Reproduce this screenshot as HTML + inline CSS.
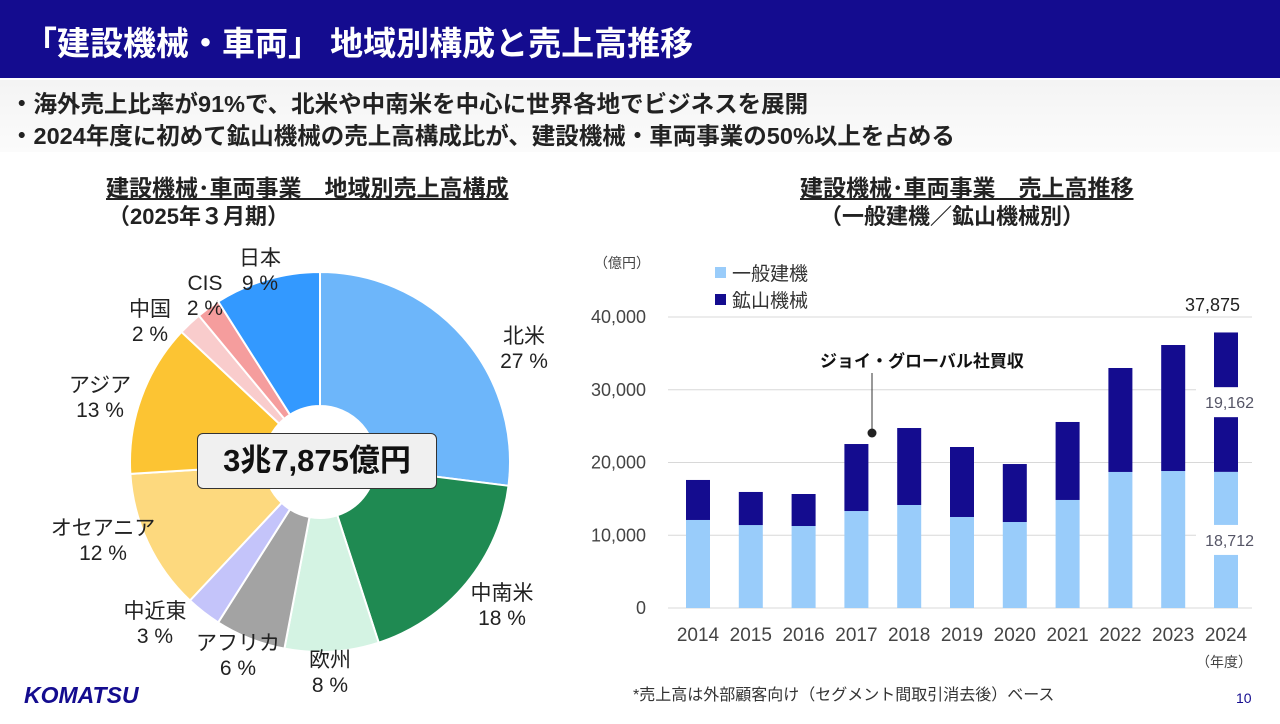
<!DOCTYPE html>
<html><head><meta charset="utf-8">
<style>
body{margin:0;width:1280px;height:724px;overflow:hidden;background:#fff;font-family:"Liberation Sans","Noto Sans CJK JP",sans-serif;position:relative}
.abs{position:absolute}
</style></head><body>
<div class="abs" style="left:0;top:0;width:1280px;height:78px;background:#140c8f"></div>
<div class="abs" style="left:24px;top:17px;color:#fff;font-size:33px;font-weight:bold;white-space:nowrap">「建設機械・車両」 地域別構成と売上高推移</div>
<div class="abs" style="left:0;top:80px;width:1280px;height:72px;background:linear-gradient(#f4f4f4,#fbfbfb)"></div>
<div class="abs" style="left:10px;top:85px;font-size:23.5px;font-weight:bold;color:#222;white-space:nowrap">・海外売上比率が91%で、北米や中南米を中心に世界各地でビジネスを展開</div>
<div class="abs" style="left:10px;top:117px;font-size:23.5px;font-weight:bold;color:#222;white-space:nowrap">・2024年度に初めて鉱山機械の売上高構成比が、建設機械・車両事業の50%以上を占める</div>
<div class="abs" style="left:106px;top:169px;font-size:23px;font-weight:bold;color:#222;text-decoration:underline;white-space:nowrap">建設機械･車両事業　地域別売上高構成</div>
<div class="abs" style="left:108px;top:199px;font-size:22px;font-weight:bold;color:#222">（2025年３月期）</div>
<div class="abs" style="left:800px;top:169px;font-size:23px;font-weight:bold;color:#222;text-decoration:underline;white-space:nowrap">建設機械･車両事業　売上高推移</div>
<div class="abs" style="left:820px;top:199px;font-size:22px;font-weight:bold;color:#222">（一般建機／鉱山機械別）</div>

<svg class="abs" style="left:0;top:0" width="1280" height="724" id="svg"></svg>

<div class="abs" style="left:197px;top:433px;width:240px;height:56px;box-sizing:border-box;border:1.5px solid #333;border-radius:6px;background:#f0f0f0;font-size:31px;font-weight:bold;text-align:center;line-height:53px;color:#111">3兆7,875億円</div>

<div class="abs" style="left:633px;top:681px;font-size:16px;color:#333">*売上高は外部顧客向け（セグメント間取引消去後）ベース</div>
<div class="abs" style="left:24px;top:682px;font-size:23px;font-weight:900;color:#140c8f;font-style:italic">KOMATSU</div>
<div class="abs" style="left:1236px;top:690px;font-size:14px;color:#140c8f">10</div>

<script>
const regions=['北米','中南米','欧州','アフリカ','中近東','オセアニア','アジア','中国','CIS','日本'];
const shares=[27,18,8,6,3,12,13,2,2,9];
const pieColors=['#6db6fa','#1f8a52','#d4f3e3','#a3a3a3','#c4c4fa','#fdd97e','#fcc433','#f9cccc','#f59d9d','#3399ff'];
const years=['2014','2015','2016','2017','2018','2019','2020','2021','2022','2023','2024'];
const general=[12100,11400,11270,13330,14160,12510,11820,14850,18700,18830,18712];
const mining=[5500,4550,4400,9210,10580,9620,7970,10720,14290,17320,19162];
const totalLabel=[37875];
const yTicks=[0,10000,20000,30000,40000];
const NS='http://www.w3.org/2000/svg';
const svg=document.getElementById('svg');
function mk(tag,attrs,txt){const e=document.createElementNS(NS,tag);for(const k in attrs)e.setAttribute(k,attrs[k]);if(txt!==undefined)e.textContent=txt;svg.appendChild(e);return e;}
// pie
const cx=320,cy=462,R=190,r0=56;
const labelPos=[[524,343],[502,600],[330,667],[238,650],[155,618],[103,535],[100,392],[150,316],[205,290],[260,265]];
let total=shares.reduce((a,b)=>a+b,0),acc=0;
shares.forEach((v,i)=>{
 const a0=acc/total*2*Math.PI;acc+=v;const a1=acc/total*2*Math.PI;
 const p=(a,rr)=>[cx+rr*Math.sin(a),cy-rr*Math.cos(a)];
 const [x0,y0]=p(a0,R),[x1,y1]=p(a1,R),[x2,y2]=p(a1,r0),[x3,y3]=p(a0,r0);
 const lg=(a1-a0)>Math.PI?1:0;
 const s=mk('path',{d:`M${x0},${y0}A${R},${R} 0 ${lg} 1 ${x1},${y1}L${x2},${y2}A${r0},${r0} 0 ${lg} 0 ${x3},${y3}Z`,fill:pieColors[i],stroke:'#fff','stroke-width':2});
 
 
 const [lx,ly]=labelPos[i];
 const t=mk('text',{x:lx,y:ly,'font-size':21,fill:'#222','text-anchor':'middle'});
 
 
 const t1=document.createElementNS(NS,'tspan');t1.setAttribute('x',lx);t1.textContent=regions[i];t.appendChild(t1);
 const t2=document.createElementNS(NS,'tspan');t2.setAttribute('x',lx);t2.setAttribute('dy',25);t2.textContent=shares[i]+' %';t.appendChild(t2);
});
// bars
const y0p=608,y40=317,yS=v=>y0p-(v/40000)*(y0p-y40);
const xS=i=>698+i*52.8,bw=24;
yTicks.forEach(v=>{
 const l=mk('line',{x1:668,x2:1252,y1:yS(v),y2:yS(v),stroke:'#d8d8d8','stroke-width':1});
 
 
 const t=mk('text',{x:646,y:yS(v)+6,'font-size':18,fill:'#444','text-anchor':'end'},v.toLocaleString('en-US'));
 
 
});
years.forEach((yr,i)=>{
 const g=mk('rect',{x:xS(i)-bw/2,y:yS(general[i]),width:bw,height:y0p-yS(general[i]),fill:'#99ccfa'});
 
 
 const m=mk('rect',{x:xS(i)-bw/2,y:yS(general[i]+mining[i]),width:bw,height:yS(general[i])-yS(general[i]+mining[i]),fill:'#140c8f'});
 
 
 const t=mk('text',{x:xS(i),y:641,'font-size':19,fill:'#444','text-anchor':'middle'},yr);
 
 
});
const last=years.length-1,lx=xS(last);
[[general[last],(yS(0)+yS(general[last]))/2],[mining[last],(yS(general[last])+yS(general[last]+mining[last]))/2]].forEach(([v,y],k)=>{
 const bg=mk('rect',{x:lx-30,y:y-15,width:60,height:30,fill:'#fff'});
 
 
 const t=mk('text',{x:lx+28,y:y+6,'font-size':16,fill:'#556','text-anchor':'end'},v.toLocaleString('en-US'));
 
 
});
const tt=mk('text',{x:1240,y:311,'font-size':18,fill:'#222','text-anchor':'end'},totalLabel[0].toLocaleString('en-US'));


const u=mk('text',{x:594,y:268,'font-size':14,fill:'#444'},'（億円）');


const u2=mk('text',{x:1196,y:667,'font-size':14,fill:'#444'},'（年度）');


const l1=mk('rect',{x:715,y:267,width:11,height:11,fill:'#99ccfa'});


const l1t=mk('text',{x:732,y:280,'font-size':19,fill:'#333'},'一般建機');


const l2=mk('rect',{x:715,y:294,width:11,height:11,fill:'#140c8f'});


const l2t=mk('text',{x:732,y:307,'font-size':19,fill:'#333'},'鉱山機械');


const an=mk('text',{x:820,y:367,'font-size':17,'font-weight':'bold',fill:'#111'},'ジョイ・グローバル社買収');


const al=mk('line',{x1:872,x2:872,y1:373,y2:432,stroke:'#333','stroke-width':1});


const ad=mk('circle',{cx:872,cy:433,r:4.5,fill:'#222'});


</script>
</body></html>
